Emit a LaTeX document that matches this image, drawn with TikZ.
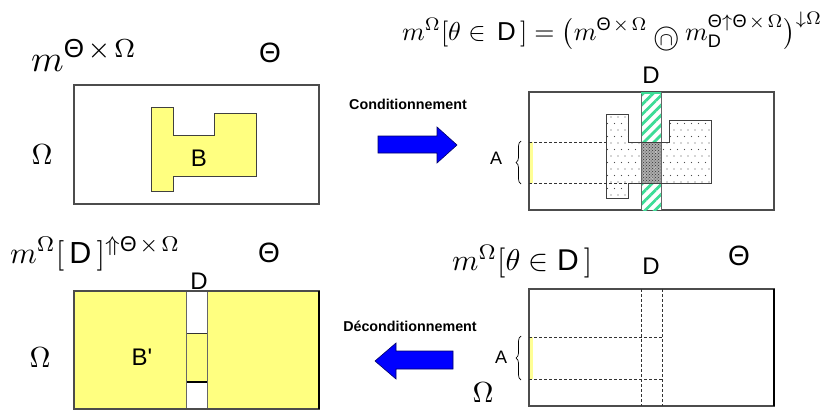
\documentclass[tikz,border=0pt]{standalone}
\usepackage{amsmath}
\usepackage{graphicx}
\usepackage{fontspec}
\newfontfamily\af{Liberation Sans}
\usetikzlibrary{patterns,patterns.meta,decorations.pathreplacing}
\newcommand\Th{\text{\af Θ}}
\newcommand\Dd{\text{\af D}}
\newcommand\tms{\mkern2mu\times\mkern2mu}
\newcommand\ocapx{\mathbin{\raisebox{-0.5ex}{\ooalign{$\textstyle\bigcirc$\cr\hidewidth$\scriptstyle\cap$\hidewidth\cr}}}}
\definecolor{yel}{RGB}{255,255,128}
\definecolor{ystrip}{RGB}{255,255,150}
\definecolor{hgreen}{RGB}{60,220,150}
\definecolor{bluearr}{RGB}{0,0,255}
\begin{document}
\begin{tikzpicture}[x=1pt,y=-1pt,
  box/.style={draw=black!70,line width=1.1pt},
  shp/.style={draw=black!75,line width=1pt},
  dsh/.style={draw=black!80,dashed,line width=0.7pt,dash pattern=on 3pt off 2pt},
  mth/.style={inner sep=0pt},
  sfl/.style={inner sep=0pt,font=\af\fontsize{24}{28}\selectfont},
  thl/.style={inner sep=0pt,font=\af\fontsize{28}{30}\selectfont},
  arrtext/.style={inner sep=0pt,font=\af\bfseries\fontsize{14.3}{16}\selectfont},
  arr/.style={fill=bluearr,draw=black!60!blue,line width=0.6pt}]
\path[use as bounding box] (0,0) rectangle (826,410);
\fill[white] (0,0) rectangle (826,410);

% ---------- top left ----------
\node[mth,anchor=base west] (mTO) at (31,71) {\resizebox{106pt}{!}{$m^{\Th\tms\Omega}$}};
\node[thl] (thTL) at (270,53) {Θ};
\node[mth] (omTL) at (42,155) {\scalebox{2.9}{$\Omega$}};
\draw[box] (74,85) rectangle (319,204);
\filldraw[shp,fill=yel] (151,107) -- (173,107) -- (173,135) -- (214,135) -- (214,113) -- (256,113) -- (256,176) -- (173,176) -- (173,191) -- (151,191) -- cycle;
\node[sfl] (B) at (199,158) {B};

% ---------- arrows ----------
\node[arrtext] (cond) at (408,104) {Conditionnement};
\filldraw[arr] (378,136) -- (437,136) -- (437,127) -- (457,145) -- (437,163) -- (437,153) -- (378,153) -- cycle;
\node[arrtext] (decond) at (410,326) {Déconditionnement};
\filldraw[arr] (453,351) -- (396,351) -- (396,343) -- (375,361) -- (396,379) -- (396,369) -- (453,369) -- cycle;

% ---------- top right ----------
\node[mth,anchor=base west] (form) at (402,40)
  {\resizebox{420pt}{!}{$m^{\Omega}[\theta\in\,\Dd\,]=\bigl(m^{\Th\tms\Omega}\ocapx m_{\Dd}^{\Th\uparrow\Th\tms\Omega}\bigr)^{\downarrow\Omega}$}};
\node[sfl] (DTR) at (651,75) {D};
\draw[box] (529,92) rectangle (774,210);
% dotted shape
\filldraw[shp,fill=white] (606,114) -- (628,114) -- (628,142) -- (669,142) -- (669,120) -- (711,120) -- (711,183) -- (628,183) -- (628,198) -- (606,198) -- cycle;
\begin{scope}
\clip (606,114) -- (628,114) -- (628,142) -- (669,142) -- (669,120) -- (711,120) -- (711,183) -- (628,183) -- (628,198) -- (606,198) -- cycle;
\foreach \i in {0,...,16}{
  \foreach \j in {0,...,14}{
    \fill[black!70] ({604+7*\i+3.5*mod(\j,2)},{117+6.5*\j}) circle (0.55);
  }
}
\end{scope}
% green hatched strip
\fill[white] (641,92) rectangle (661,210);
\fill[pattern={Lines[angle=45,distance=7pt,line width=2.8pt]},pattern color=hgreen] (641,92) rectangle (661,210);
\fill[gray!65] (641,142) rectangle (661,183);
\fill[pattern=crosshatch dots,pattern color=black!80] (641,142) rectangle (661,183);
\foreach \p in {(646,148),(656,152),(648,160),(655,168),(645,175),(652,178)}{\fill[white] \p circle (0.7);}
\draw[draw=black!60,line width=0.8pt] (641,92) -- (641,210) (661,92) -- (661,210);
\draw[hgreen,line width=2pt] (641,93) -- (661,93);
\draw[black!75,line width=1pt] (628,142) -- (669,142) (628,183) -- (711,183);
% A region
\fill[ystrip] (529.5,142) rectangle (533,183);
\draw[dsh] (529,142) -- (606,142);
\draw[dsh] (529,183) -- (641,183);
\draw[decorate,decoration={brace,amplitude=5pt},line width=0.7pt] (521,184) -- (521,141);
\node[inner sep=0pt,font=\af\fontsize{18}{20}\selectfont] (ATR) at (496,158) {A};

% ---------- bottom left ----------
\node[mth,anchor=base west] (mBL) at (10,263) {\resizebox{170pt}{!}{$m^{\Omega}[\,\Dd\,]^{\Uparrow\Th\tms\Omega}$}};
\node[sfl] (DBL) at (199,281) {D};
\node[thl] (thBL) at (269,253) {Θ};
\node[mth] (omBL) at (40,358) {\scalebox{2.9}{$\Omega$}};
\fill[yel] (74,291) rectangle (319,409);
\fill[white] (186,291) rectangle (207,409);
\fill[yel] (186,333) rectangle (207,382);
\draw[black!80,line width=0.9pt] (186,333) -- (207,333);
\draw[black,line width=1.6pt] (186,382) -- (207,382);
\draw[black!60,line width=1pt] (186,291) -- (186,409) (207,291) -- (207,409);
\draw[box] (74,291) rectangle (319,409);
\draw[black,line width=1.3pt] (319,291) -- (319,409);
\node[sfl] (Bp) at (142,357) {B'};

% ---------- bottom right ----------
\node[mth,anchor=base west] (mBR) at (452,270) {\resizebox{140pt}{!}{$m^{\Omega}[\theta\in\Dd\,]$}};
\node[sfl] (DBR) at (651,266) {D};
\node[thl] (thBR) at (739,256) {Θ};
\node[mth] (omBR) at (483,393) {\scalebox{2.9}{$\Omega$}};
\draw[box] (529,289) rectangle (774,406);
\draw[black,line width=1.4pt] (774,289) -- (774,406);
\fill[ystrip] (529.5,337) rectangle (533,379);
\draw[dsh] (641,289) -- (641,406);
\draw[dsh] (662,289) -- (662,406);
\draw[dsh] (529,337) -- (662,337);
\draw[dsh] (529,379) -- (662,379);
\draw[decorate,decoration={brace,amplitude=5pt},line width=0.7pt] (521,380) -- (521,336);
\node[inner sep=0pt,font=\af\fontsize{18}{20}\selectfont] (ABR) at (501,357) {A};
\end{tikzpicture}
\end{document}
